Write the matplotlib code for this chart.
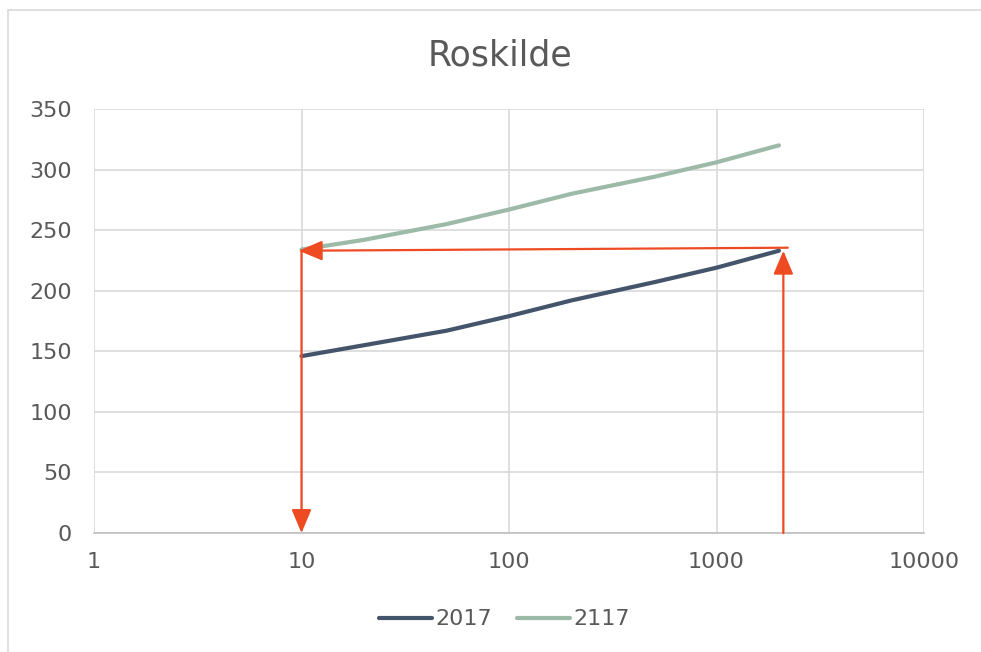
import matplotlib
matplotlib.use("Agg")
import matplotlib.pyplot as plt
from matplotlib.patches import Rectangle
from matplotlib.ticker import FixedLocator, FixedFormatter, NullLocator

# Return period (years) and water level (cm)
return_period = [10, 20, 50, 100, 200, 500, 1000, 2000]
level_2017 = [146, 155, 167, 179, 192, 207, 219, 233]
level_2117 = [234, 242, 255, 267, 280, 294, 306, 320]

x_ticks = [1, 10, 100, 1000, 10000]
x_tick_labels = ["1", "10", "100", "1000", "10000"]
y_ticks = [0, 50, 100, 150, 200, 250, 300, 350]

# Reading guide: 2017 level at ~2000 years -> same level in 2117 -> its return period
guide_x_far = 2100
guide_x_near = 10
guide_level = 234

C2017 = "#44546A"
C2117 = "#9DB9A7"
RED = "#EE4B22"
TXT = "#595959"

fig = plt.figure(figsize=(9.81, 6.52), dpi=100)
fig.patches.append(Rectangle((8 / 981, -0.1), 1.2, (652 - 10) / 652 + 0.1,
                             transform=fig.transFigure, fill=False,
                             edgecolor="#D9D9D9", linewidth=1.2))

ax = fig.add_axes([94 / 981, (652 - 533) / 652, 830 / 981, 424 / 652])
ax.set_xscale("log")
ax.set_xlim(1, 10000)
ax.set_ylim(0, 350)

ax.plot(return_period, level_2017, color=C2017, lw=3.0, solid_capstyle="round",
        label="2017", zorder=3)
ax.plot(return_period, level_2117, color=C2117, lw=3.0, solid_capstyle="round",
        label="2117", zorder=3)

arrow = dict(arrowstyle="-|>,head_length=0.9,head_width=0.38", color=RED,
             lw=1.6, mutation_scale=16, shrinkA=0, shrinkB=0)
ax.annotate("", xy=(guide_x_far, level_2017[-1]), xytext=(guide_x_far, 0),
            arrowprops=arrow, zorder=4)
ax.annotate("", xy=(guide_x_near * 0.97, guide_level - 1),
            xytext=(guide_x_far * 1.05, guide_level + 1.5),
            arrowprops=arrow, zorder=4)
ax.annotate("", xy=(guide_x_near, 0), xytext=(guide_x_near, guide_level - 1),
            arrowprops=arrow, zorder=4)

ax.xaxis.set_major_locator(FixedLocator(x_ticks))
ax.xaxis.set_major_formatter(FixedFormatter(x_tick_labels))
ax.xaxis.set_minor_locator(NullLocator())
ax.set_yticks(y_ticks)

ax.grid(True, color="#D9D9D9", lw=1.2)
ax.set_axisbelow(True)
for side in ["top", "left", "right"]:
    ax.spines[side].set_visible(False)
ax.spines["bottom"].set_color("#BFBFBF")
ax.spines["bottom"].set_linewidth(1.2)
ax.tick_params(axis="both", length=0, labelsize=16, labelcolor=TXT)
ax.tick_params(axis="y", pad=16)
ax.tick_params(axis="x", pad=14)

fig.text(0.51, 0.915, "Roskilde", ha="center", va="center", fontsize=25, color=TXT)

fig.legend(loc="center", bbox_to_anchor=(0.514, 0.05), ncol=2, frameon=False,
           fontsize=16, labelcolor=TXT, handlelength=2.4, handletextpad=0.15,
           columnspacing=1.1)

fig.savefig("out.png", dpi=100)
